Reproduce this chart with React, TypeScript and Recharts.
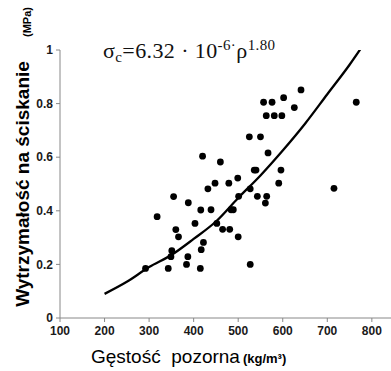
import { ComposedChart, Scatter, Line, XAxis, YAxis } from 'recharts';

// measured samples: apparent density (kg/m3) vs compressive strength (MPa)
const density = [
  292, 318, 343, 349, 351, 355, 360, 366, 384, 387, 388, 403, 415, 416, 417, 420, 422, 432,
  439, 448, 452, 460, 465, 479, 481, 484, 489, 499, 500, 501, 525, 527, 527, 536, 540, 543,
  550, 557, 561, 563, 564, 567, 576, 581, 591, 596, 598, 602, 626, 641, 715, 765,
];
const strength = [
  0.185, 0.378, 0.185, 0.229, 0.251, 0.453, 0.33, 0.303, 0.2, 0.229, 0.43, 0.353, 0.185, 0.403,
  0.255, 0.604, 0.282, 0.482, 0.404, 0.503, 0.353, 0.582, 0.331, 0.503, 0.331, 0.404, 0.404,
  0.522, 0.303, 0.454, 0.676, 0.482, 0.2, 0.552, 0.552, 0.454, 0.676, 0.805, 0.429, 0.755,
  0.454, 0.616, 0.805, 0.755, 0.503, 0.552, 0.755, 0.822, 0.785, 0.851, 0.484, 0.805,
];

// fitted curve as drawn
const curveDensity = [200, 250, 300, 350, 400, 450, 500, 550, 600, 650, 700, 750, 777];
const curveStrength = [0.09, 0.135, 0.19, 0.235, 0.295, 0.36, 0.448, 0.532, 0.625, 0.725, 0.835, 0.945, 1.01];

const xTicks = [100, 200, 300, 400, 500, 600, 700, 800];
const yTicks = [0, 0.2, 0.4, 0.6, 0.8, 1];

const points = density.map((x, i) => ({ x, y: strength[i] }));
const curve = curveDensity.map((x, i) => ({ x, y: curveStrength[i] }));

const tickStyle = { fontSize: 12, fontWeight: 700, fill: '#1a1a1a', fontFamily: 'Liberation Sans, Arial, sans-serif' };

const Dot = (props: any) => <circle cx={props.cx} cy={props.cy} r={3.4} fill="#000" />;

export default function App() {
  return (
    <div style={{ position: 'absolute', left: 0, top: 0, width: 391, height: 371, background: '#fff' }}>
      <ComposedChart width={391} height={371} margin={{ top: 50, right: 0, bottom: 23, left: 0 }}>
        <XAxis
          type="number"
          dataKey="x"
          domain={[100, 843]}
          ticks={xTicks}
          allowDataOverflow
          height={30}
          tickSize={4}
          tickMargin={4}
          stroke="#888"
          tick={tickStyle}
        />
        <YAxis
          type="number"
          dataKey="y"
          domain={[0, 1]}
          ticks={yTicks}
          allowDataOverflow
          width={60}
          tickSize={4}
          tickMargin={3}
          stroke="#888"
          tick={tickStyle}
          tickFormatter={(v: number) => String(v)}
        />
        <Line
          data={curve}
          dataKey="y"
          type="monotone"
          stroke="#000"
          strokeWidth={2.3}
          dot={false}
          activeDot={false}
          isAnimationActive={false}
        />
        <Scatter data={points} dataKey="y" shape={Dot} isAnimationActive={false} />
      </ComposedChart>
      <svg width={391} height={371} style={{ position: 'absolute', left: 0, top: 0, pointerEvents: 'none' }}>
        <text x={103} y={58} fontFamily="Liberation Serif, Times New Roman, serif" fontSize={22} letterSpacing={0.4} fill="#111">
          <tspan>σ</tspan>
          <tspan fontSize={15} dy={4}>c</tspan>
          <tspan dy={-4}>=6.32 · 10</tspan>
          <tspan fontSize={15} dy={-8}>-6·</tspan>
          <tspan dy={8}>ρ</tspan>
          <tspan fontSize={15} dy={-8}>1.80</tspan>
        </text>
        <text
          transform="translate(29,184) rotate(-90)"
          textAnchor="middle"
          fontFamily="Liberation Sans, Arial, sans-serif"
          fontSize={19}
          fontWeight={700}
          fill="#000"
        >
          Wytrzymałość na ściskanie
        </text>
        <text
          transform="translate(31,22) rotate(-90)"
          textAnchor="middle"
          fontFamily="Liberation Sans, Arial, sans-serif"
          fontSize={11}
          fontWeight={700}
          fill="#000"
        >
          (MPa)
        </text>
        <text x={91} y={363} fontFamily="Liberation Sans, Arial, sans-serif" fill="#000">
          <tspan fontSize={19} xmlSpace="preserve">Gęstość  pozorna</tspan>
          <tspan fontSize={13} fontWeight={700} dx={3}>(kg/m³)</tspan>
        </text>
      </svg>
    </div>
  );
}
